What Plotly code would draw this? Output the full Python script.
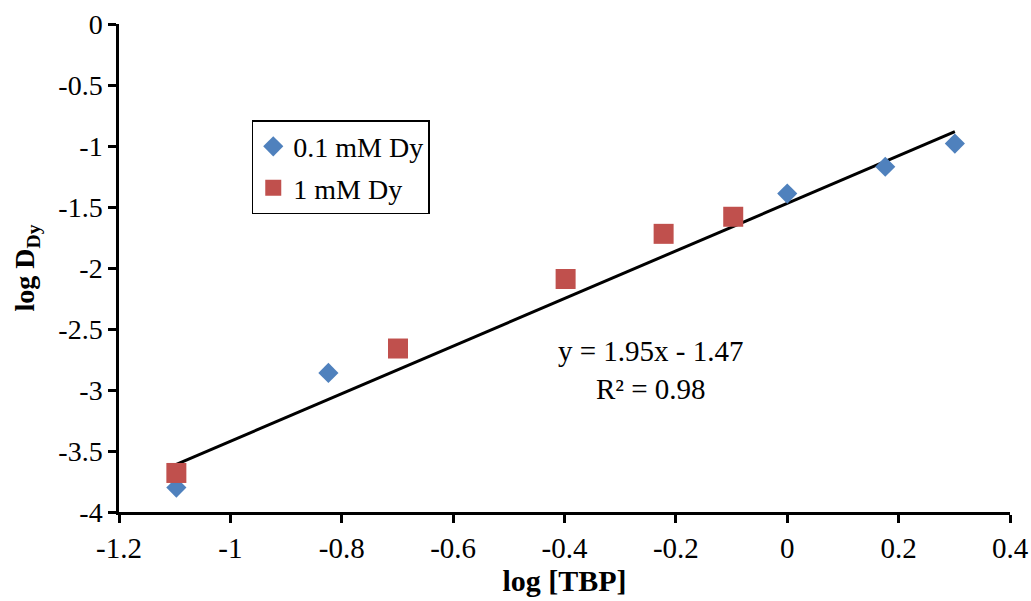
import numpy as np
import plotly.graph_objects as go

# Data
blue_name = "0.1 mM Dy"
blue_x = [-1.097, -0.824, 0.0, 0.176, 0.301]
blue_y = [-3.80, -2.86, -1.39, -1.17, -0.98]

red_name = "1 mM Dy"
red_x = [-1.097, -0.699, -0.398, -0.222, -0.097]
red_y = [-3.68, -2.66, -2.09, -1.72, -1.58]

slope = 1.95
intercept = -1.47
r2 = 0.98

x_ticks = [-1.2, -1, -0.8, -0.6, -0.4, -0.2, 0, 0.2, 0.4]
y_ticks = [0, -0.5, -1, -1.5, -2, -2.5, -3, -3.5, -4]

all_x = blue_x + red_x
fit_x = [min(all_x), max(all_x)]
fit_y = [slope * v + intercept for v in fit_x]

FONT = "Liberation Serif, Times New Roman, serif"

fig = go.Figure()
fig.add_trace(go.Scatter(x=fit_x, y=fit_y, mode="lines",
                         line=dict(color="black", width=3), showlegend=False,
                         hoverinfo="skip"))
fig.add_trace(go.Scatter(x=blue_x, y=blue_y, mode="markers", name=blue_name,
                         legendgroup="a",
                         marker=dict(symbol="diamond", size=15.5, color="#4F81BD")))
fig.add_trace(go.Scatter(x=red_x, y=red_y, mode="markers", name=red_name,
                         legendgroup="b",
                         marker=dict(symbol="square", size=20, color="#C0504D")))

fig.add_annotation(x=-0.245, y=-2.84, xref="x", yref="y",
                   text=f"y = {slope}x - {abs(intercept)}<br>R² = {r2}",
                   showarrow=False, align="center",
                   font=dict(family=FONT, size=29, color="black"))

axis_common = dict(showgrid=False, zeroline=False, showline=True,
                   linecolor="black", linewidth=2.5, ticks="outside",
                   ticklen=8, tickwidth=2.5, tickcolor="black",
                   mirror=False, automargin=False)

fig.update_xaxes(range=[-1.2, 0.4], tickvals=x_ticks,
                 ticktext=[f"{v:g}" for v in x_ticks],
                 tickfont=dict(family=FONT, size=29, color="black"),
                 title=dict(text="<b>log [TBP]</b>", standoff=3,
                            font=dict(family=FONT, size=30, color="black")),
                 **axis_common)
fig.update_yaxes(range=[-4, 0], tickvals=y_ticks,
                 ticktext=[f"{v:g}" for v in y_ticks],
                 tickfont=dict(family=FONT, size=28, color="black"),
                 title=dict(text="<b>log D<sub>Dy</sub></b>", standoff=16,
                            font=dict(family=FONT, size=28, color="black")),
                 **axis_common)

fig.update_layout(
    width=1031, height=601,
    margin=dict(l=119, r=21, t=24, b=89),
    plot_bgcolor="white", paper_bgcolor="white",
    legend=dict(x=0.149, y=0.803, xanchor="left", yanchor="top",
                bordercolor="black", borderwidth=1.5, bgcolor="white",
                font=dict(family=FONT, size=28, color="black"),
                itemwidth=30, tracegroupgap=2),
)

# remove the default page margin so the 1031x601 figure fills the window exactly
fig.write_html("out.html",
               config={"displayModeBar": False},
               post_script="document.body.style.margin='0';"
                           "document.body.style.overflow='hidden';")
